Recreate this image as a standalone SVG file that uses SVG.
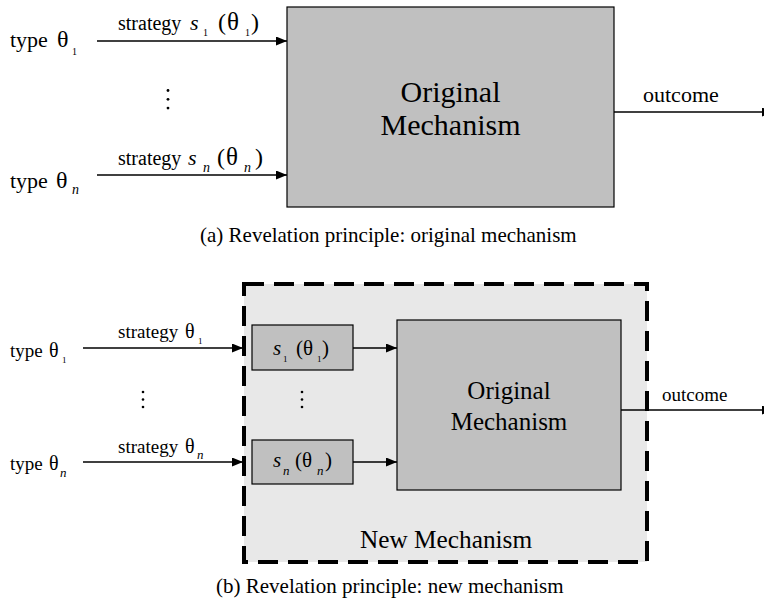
<svg xmlns="http://www.w3.org/2000/svg" width="764" height="602" viewBox="0 0 764 602" font-family="'Liberation Serif', 'DejaVu Serif', serif">
<style>
text, tspan { font-family: 'Liberation Serif', 'DejaVu Serif', serif; fill: #000; }
.it { font-style: italic; }
.box { fill: #c0c0c0; stroke: #000; stroke-width: 1.2; }
.ln { stroke: #000; stroke-width: 1.3; fill: none; }
.dot { fill: #000; }
</style>
<defs>
<marker id="ah" markerWidth="11" markerHeight="9" refX="11" refY="4.5" orient="auto" markerUnits="userSpaceOnUse">
<path d="M0,0 L11,4.5 L0,9 Z" fill="#000"/>
</marker>
</defs>

<rect width="764" height="602" fill="#fff"/>

<!-- (a) -->
<g id="orig-a">
<rect class="box" x="287" y="7" width="327" height="200"/>
<text x="450.5" y="102" font-size="30" text-anchor="middle">Original</text>
<text x="450.5" y="135" font-size="30" text-anchor="middle">Mechanism</text>
</g>
<g id="type1-a">
<text y="47" font-size="22"><tspan x="10">type</tspan><tspan x="57" font-size="24">θ</tspan><tspan x="72" y="55" font-size="10">1</tspan></text>
</g>
<g id="typen-a">
<text y="188" font-size="22"><tspan x="10">type</tspan><tspan x="56" font-size="24">θ</tspan><tspan class="it" x="72" y="194" font-size="14">n</tspan></text>
</g>
<g id="dots-a">
<circle class="dot" cx="168" cy="90.5" r="1.4"/>
<circle class="dot" cx="168" cy="99.3" r="1.4"/>
<circle class="dot" cx="168" cy="108.1" r="1.4"/>
</g>
<g id="connectors-a">
<line class="ln" x1="97" y1="41" x2="287" y2="41" marker-end="url(#ah)"/>
<line class="ln" x1="97" y1="175" x2="287" y2="175" marker-end="url(#ah)"/>
<line class="ln" x1="614" y1="112" x2="773" y2="112" marker-end="url(#ah)"/>
<text y="30" font-size="20"><tspan x="118">strategy</tspan><tspan class="it" x="190" font-size="22">s</tspan><tspan x="203" y="36" font-size="10">1</tspan><tspan x="218" y="30" font-size="24">(</tspan><tspan x="227" font-size="25">θ</tspan><tspan x="245" y="36" font-size="10">1</tspan><tspan x="251" y="30" font-size="24">)</tspan></text>
<text y="165" font-size="20"><tspan x="118">strategy</tspan><tspan class="it" x="188" font-size="22">s</tspan><tspan class="it" x="203" y="172" font-size="14">n</tspan><tspan x="217" y="165" font-size="24">(</tspan><tspan x="226" font-size="25">θ</tspan><tspan class="it" x="244" y="172" font-size="14">n</tspan><tspan x="255" y="165" font-size="24">)</tspan></text>
<text x="643" y="102" font-size="22">outcome</text>
</g>
<text x="200" y="242" font-size="21">(a) Revelation principle: original mechanism</text>

<!-- (b) -->
<g id="new-mech">
<rect x="244" y="284" width="403" height="278" fill="#e8e8e8" stroke="#000" stroke-width="4" stroke-dasharray="20 10"/>
<text x="360" y="548" font-size="25.3">New Mechanism</text>
</g>
<g id="s1-box">
<rect class="box" x="252" y="325" width="101" height="45"/>
<text y="355" font-size="21"><tspan class="it" x="273">s</tspan><tspan x="283" y="362" font-size="9">1</tspan><tspan x="296" y="355">(</tspan><tspan x="303">θ</tspan><tspan x="317" y="362" font-size="9">1</tspan><tspan x="322" y="355">)</tspan></text>
</g>
<g id="sn-box">
<rect class="box" x="252" y="440" width="101" height="44"/>
<text y="467" font-size="21"><tspan class="it" x="273">s</tspan><tspan class="it" x="283" y="475" font-size="13">n</tspan><tspan x="295" y="467">(</tspan><tspan x="302">θ</tspan><tspan class="it" x="317" y="475" font-size="13">n</tspan><tspan x="325" y="467">)</tspan></text>
</g>
<g id="orig-b">
<rect class="box" x="397" y="320" width="224" height="170"/>
<text x="509" y="399" font-size="25" text-anchor="middle">Original</text>
<text x="509" y="430" font-size="25" text-anchor="middle">Mechanism</text>
</g>
<g id="type1-b">
<text y="357" font-size="19"><tspan x="10">type</tspan><tspan x="49" font-size="20">θ</tspan><tspan x="62" y="363" font-size="9">1</tspan></text>
</g>
<g id="typen-b">
<text y="470" font-size="19"><tspan x="10">type</tspan><tspan x="49" font-size="20">θ</tspan><tspan class="it" x="60" y="477" font-size="13">n</tspan></text>
</g>
<g id="dots-b">
<circle class="dot" cx="143" cy="392" r="1.3"/>
<circle class="dot" cx="143" cy="399.5" r="1.3"/>
<circle class="dot" cx="143" cy="407" r="1.3"/>
<circle class="dot" cx="302" cy="392" r="1.3"/>
<circle class="dot" cx="302" cy="399.5" r="1.3"/>
<circle class="dot" cx="302" cy="407" r="1.3"/>
</g>
<g id="connectors-b">
<line class="ln" x1="83" y1="348" x2="243" y2="348" marker-end="url(#ah)"/>
<line class="ln" x1="83" y1="462" x2="243" y2="462" marker-end="url(#ah)"/>
<line class="ln" x1="353" y1="348" x2="397" y2="348" marker-end="url(#ah)"/>
<line class="ln" x1="353" y1="462" x2="397" y2="462" marker-end="url(#ah)"/>
<line class="ln" x1="621" y1="410" x2="773" y2="410" marker-end="url(#ah)"/>
<text y="338" font-size="19"><tspan x="118">strategy</tspan><tspan x="185" font-size="20">θ</tspan><tspan x="198" y="344" font-size="9">1</tspan></text>
<text y="453" font-size="19"><tspan x="118">strategy</tspan><tspan x="185" font-size="20">θ</tspan><tspan class="it" x="197" y="459" font-size="13">n</tspan></text>
<text x="662" y="401" font-size="19">outcome</text>
</g>
<text x="216" y="593" font-size="21">(b) Revelation principle: new mechanism</text>
</svg>
